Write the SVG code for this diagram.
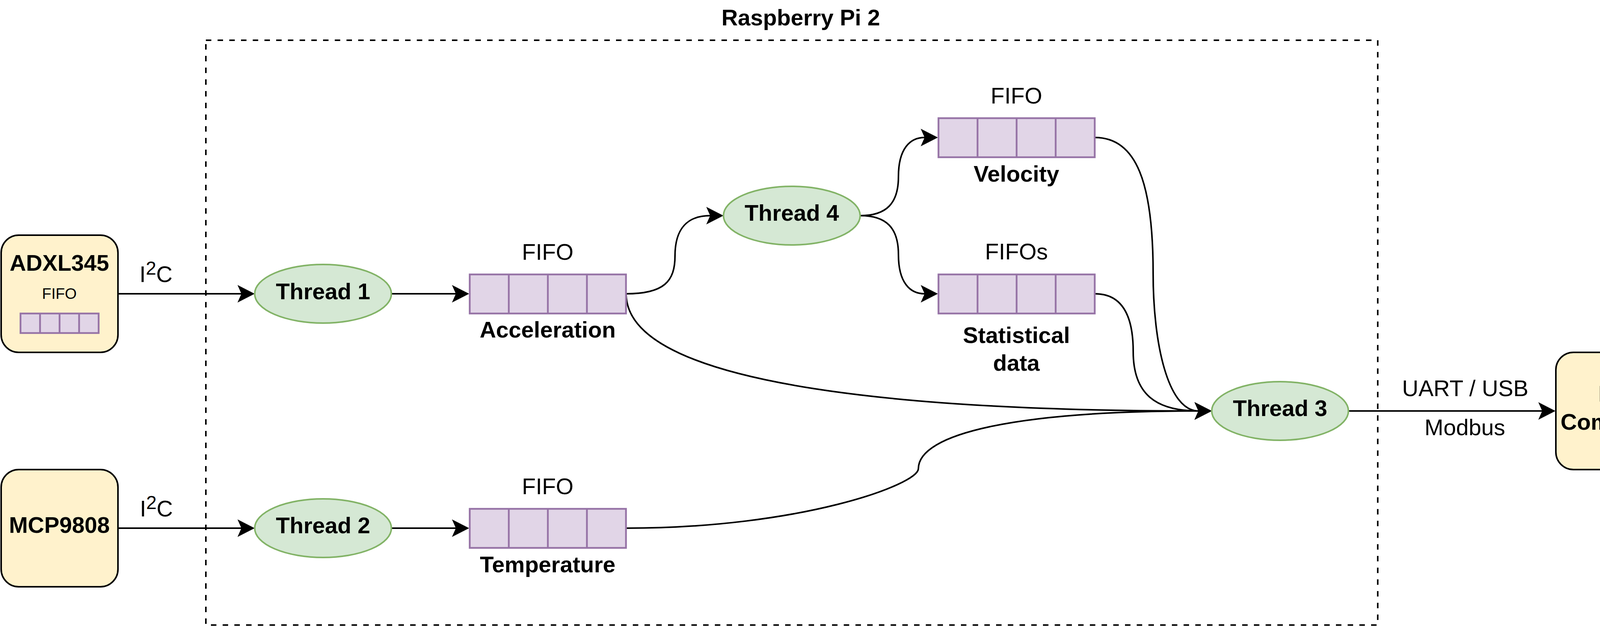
<svg xmlns="http://www.w3.org/2000/svg" width="4285" height="1605" viewBox="0 0 4285 1605">
<style>
text{font-family:"Liberation Sans",Arial,Helvetica,sans-serif;fill:#000;text-anchor:middle}
.b{font-weight:bold;font-size:58px}
.n{font-size:58px}
.s{font-size:39px}
.dev{fill:#fff2cc;stroke:#000;stroke-width:4}
.thr{fill:#d5e8d4;stroke:#82b366;stroke-width:4}
.q{fill:#e1d5e7;stroke:#9673a6;stroke-width:4.5}
.qd{fill:none;stroke:#9673a6;stroke-width:4.5}
.c{fill:none;stroke:#000;stroke-width:4}
.box{fill:none;stroke:#000;stroke-width:4;stroke-dasharray:14 16}
</style>
<defs>
<marker id="ah" markerUnits="userSpaceOnUse" viewBox="0 0 46 46" markerWidth="46" markerHeight="46" refX="10" refY="23" orient="auto">
<path d="M0,0.5 L44,23 L0,45.5 L10,23 Z" fill="#000"/>
</marker>
</defs>
<rect fill="#fff" x="0" y="0" width="4285" height="1605"/>

<g id="raspberry-pi">
<rect class="box" x="527" y="103" width="3000" height="1497"/>
<text class="b" x="2050" y="65">Raspberry Pi 2</text>
</g>

<g id="connectors">
<path class="c" d="M302,752 L618,752" marker-end="url(#ah)"/>
<path class="c" d="M302,1352 L618,1352" marker-end="url(#ah)"/>
<path class="c" d="M1003,752 L1167,752" marker-end="url(#ah)"/>
<path class="c" d="M1003,1352 L1167,1352" marker-end="url(#ah)"/>
<path class="c" d="M1603,752 C1700,752 1728,720 1728,655 C1728,585 1760,552 1818,552" marker-end="url(#ah)"/>
<path class="c" d="M2202,552 C2270,552 2300,520 2300,452 C2300,380 2330,352 2367,352" marker-end="url(#ah)"/>
<path class="c" d="M2202,552 C2270,552 2300,584 2300,652 C2300,724 2330,752 2367,752" marker-end="url(#ah)"/>
<path class="c" d="M2803,352 C2910,352 2952,470 2952,700 C2952,880 2990,1052 3068,1052" marker-end="url(#ah)"/>
<path class="c" d="M2803,752 C2880,752 2901,820 2901,900 C2901,1010 2960,1052 3068,1052" marker-end="url(#ah)"/>
<path class="c" d="M1603,752 C1603,1000 2400,1052 3068,1052" marker-end="url(#ah)"/>
<path class="c" d="M1603,1352 C2050,1352 2351,1240 2351,1200 C2351,1110 2600,1052 3068,1052" marker-end="url(#ah)"/>
<path class="c" d="M3453,1052 L3948,1052" marker-end="url(#ah)"/>
<text class="n" x="357" y="722" style="text-anchor:start">I<tspan font-size="48" dy="-19">2</tspan><tspan dy="19">C</tspan></text>
<text class="n" x="358" y="1322" style="text-anchor:start">I<tspan font-size="48" dy="-19">2</tspan><tspan dy="19">C</tspan></text>
<text class="n" x="3751" y="1014">UART / USB</text>
<text class="n" x="3750" y="1114">Modbus</text>
</g>

<g id="adxl345">
<rect class="dev" x="3" y="602" width="299" height="300" rx="45" ry="45"/>
<text class="b" x="152" y="693">ADXL345</text>
<text class="s" x="152" y="765">FIFO</text>
<rect class="q" x="52.5" y="802.5" width="200" height="50"/>
<path class="qd" d="M102.5,802.5 V852.5 M152.5,802.5 V852.5 M202.5,802.5 V852.5"/>
</g>

<g id="mcp9808">
<rect class="dev" x="3" y="1202" width="299" height="300" rx="45" ry="45"/>
<text class="b" x="152" y="1364">MCP9808</text>
</g>

<g id="pc">
<rect class="dev" x="3983" y="902" width="299" height="300" rx="45" ry="45"/>
<text class="b" x="4132" y="1028">PC</text>
<text class="b" x="4132" y="1100">Computer</text>
</g>

<g id="thread1">
<ellipse class="thr" cx="827" cy="752" rx="175" ry="75"/>
<text class="b" x="827" y="766">Thread 1</text>
</g>

<g id="thread2">
<ellipse class="thr" cx="827" cy="1352" rx="175" ry="75"/>
<text class="b" x="827" y="1365">Thread 2</text>
</g>

<g id="thread4">
<ellipse class="thr" cx="2027" cy="552" rx="175" ry="75"/>
<text class="b" x="2027" y="565">Thread 4</text>
</g>

<g id="thread3">
<ellipse class="thr" cx="3277" cy="1052" rx="175" ry="75"/>
<text class="b" x="3277" y="1065">Thread 3</text>
</g>

<g id="fifo-acceleration">
<rect class="q" x="1202.5" y="702.5" width="400" height="100"/>
<path class="qd" d="M1302.5,702.5 V802.5 M1402.5,702.5 V802.5 M1502.5,702.5 V802.5"/>
<text class="n" x="1402" y="665">FIFO</text>
<text class="b" x="1402" y="864">Acceleration</text>
</g>

<g id="fifo-temperature">
<rect class="q" x="1202.5" y="1302.5" width="400" height="100"/>
<path class="qd" d="M1302.5,1302.5 V1402.5 M1402.5,1302.5 V1402.5 M1502.5,1302.5 V1402.5"/>
<text class="n" x="1402" y="1265">FIFO</text>
<text class="b" x="1402" y="1465">Temperature</text>
</g>

<g id="fifo-velocity">
<rect class="q" x="2402.5" y="302.5" width="400" height="100"/>
<path class="qd" d="M2502.5,302.5 V402.5 M2602.5,302.5 V402.5 M2702.5,302.5 V402.5"/>
<text class="n" x="2602" y="265">FIFO</text>
<text class="b" x="2602" y="465">Velocity</text>
</g>

<g id="fifo-statistical">
<rect class="q" x="2402.5" y="702.5" width="400" height="100"/>
<path class="qd" d="M2502.5,702.5 V802.5 M2602.5,702.5 V802.5 M2702.5,702.5 V802.5"/>
<text class="n" x="2602" y="664">FIFOs</text>
<text class="b" x="2602" y="878">Statistical</text>
<text class="b" x="2602" y="949">data</text>
</g>
</svg>
